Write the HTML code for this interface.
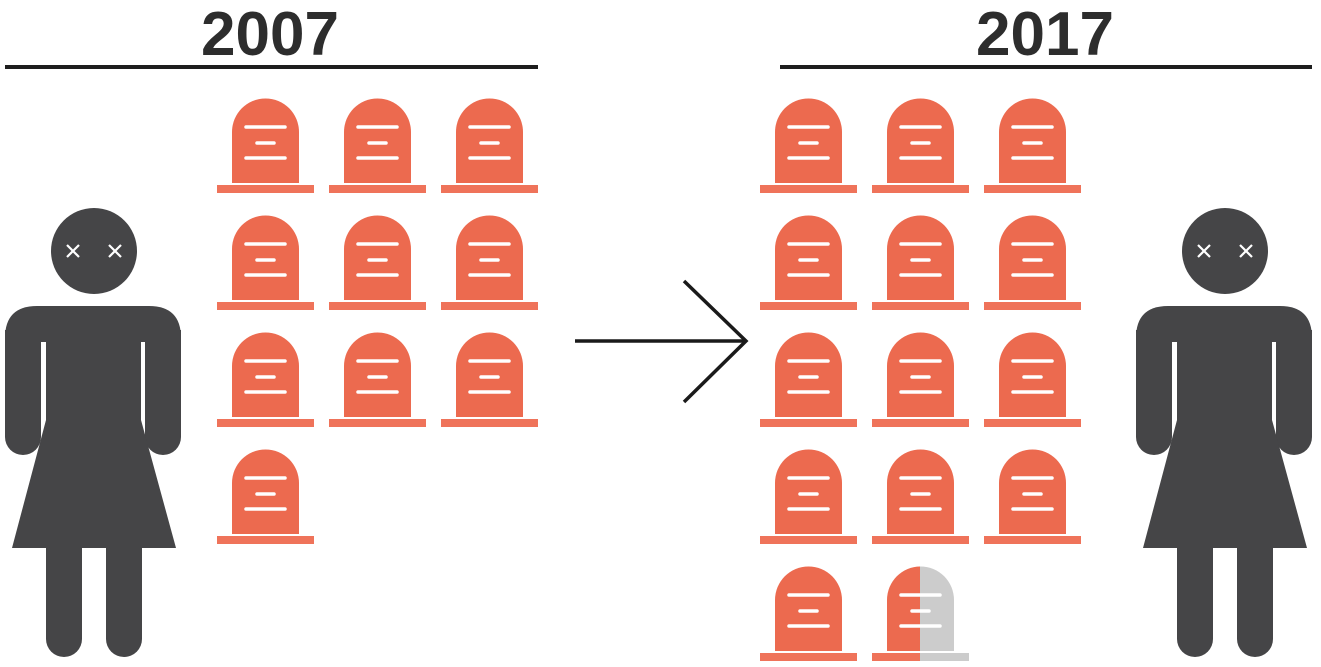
<!DOCTYPE html>
<html><head><meta charset="utf-8"><style>
html,body{margin:0;padding:0;background:#fff;}
svg{display:block;}
</style></head><body>
<svg width="1321" height="667" viewBox="0 0 1321 667" xmlns="http://www.w3.org/2000/svg">
<defs>
<g id="st">
<path d="M0,34 A33.5,33.5 0 0 1 67,34 V85 H0 Z" fill="#ec6a4f"/>
<rect x="-15" y="87" width="97" height="8" fill="#ef735a"/>
<g stroke="#fff" stroke-width="3.5" stroke-linecap="round">
<line x1="14" y1="29" x2="53" y2="29"/>
<line x1="25" y1="45" x2="42" y2="45"/>
<line x1="14" y1="60" x2="53" y2="60"/>
</g>
</g>
<g id="fig">
<circle cx="94" cy="251" r="43" fill="#454547"/>
<g stroke="#fff" stroke-width="2.2">
<line x1="67" y1="245" x2="79" y2="257"/><line x1="79" y1="245" x2="67" y2="257"/>
<line x1="109" y1="245" x2="121" y2="257"/><line x1="121" y1="245" x2="109" y2="257"/>
</g>
<g fill="#454547">
<path d="M5,342 V338 Q5,306 37,306 H149 Q181,306 181,338 V342 Z"/>
<path d="M5,330 V437 a18,18 0 0 0 36,0 V330 Z"/>
<path d="M145,330 V437 a18,18 0 0 0 36,0 V330 Z"/>
<rect x="46" y="306" width="95" height="116"/>
<polygon points="46,420 141,420 176,548 12,548"/>
<path d="M46,540 V639 a18,18 0 0 0 36,0 V540 Z"/>
<path d="M106,540 V639 a18,18 0 0 0 36,0 V540 Z"/>
</g>
</g>
<clipPath id="lh"><rect x="860" y="550" width="60" height="117"/></clipPath>
<clipPath id="rh"><rect x="920" y="550" width="80" height="117"/></clipPath>
</defs>

<text x="270" y="55" text-anchor="middle" font-family="Liberation Sans, sans-serif" font-weight="bold" font-size="62" fill="#2d2d2d">2007</text>
<rect x="5" y="65" width="533" height="4" fill="#1e1e1e"/>
<text x="1045" y="55" text-anchor="middle" font-family="Liberation Sans, sans-serif" font-weight="bold" font-size="62" fill="#2d2d2d">2017</text>
<rect x="780" y="65" width="532" height="4" fill="#1e1e1e"/>

<use href="#fig"/>
<use href="#fig" transform="translate(1131,0)"/>

<use href="#st" x="232" y="98"/><use href="#st" x="344" y="98"/><use href="#st" x="456" y="98"/>
<use href="#st" x="232" y="215"/><use href="#st" x="344" y="215"/><use href="#st" x="456" y="215"/>
<use href="#st" x="232" y="332"/><use href="#st" x="344" y="332"/><use href="#st" x="456" y="332"/>
<use href="#st" x="232" y="449"/>

<use href="#st" x="775" y="98"/><use href="#st" x="887" y="98"/><use href="#st" x="999" y="98"/>
<use href="#st" x="775" y="215"/><use href="#st" x="887" y="215"/><use href="#st" x="999" y="215"/>
<use href="#st" x="775" y="332"/><use href="#st" x="887" y="332"/><use href="#st" x="999" y="332"/>
<use href="#st" x="775" y="449"/><use href="#st" x="887" y="449"/><use href="#st" x="999" y="449"/>
<use href="#st" x="775" y="566"/>
<g clip-path="url(#lh)"><use href="#st" x="887" y="566"/></g>
<g clip-path="url(#rh)">
<path d="M887,600 A33.5,33.5 0 0 1 954,600 V651 H887 Z" fill="#cccccc"/>
<rect x="872" y="653" width="97" height="8" fill="#cccccc"/>
<g stroke="#fff" stroke-width="3.5" stroke-linecap="round">
<line x1="901" y1="595" x2="940" y2="595"/>
<line x1="912" y1="611" x2="929" y2="611"/>
<line x1="901" y1="626" x2="940" y2="626"/>
</g>
</g>

<g stroke="#1a1a1a" stroke-width="3.5" fill="none">
<line x1="575" y1="341" x2="746" y2="341"/>
<polyline points="684,281 746,341 684,402"/>
</g>
</svg>
</body></html>
